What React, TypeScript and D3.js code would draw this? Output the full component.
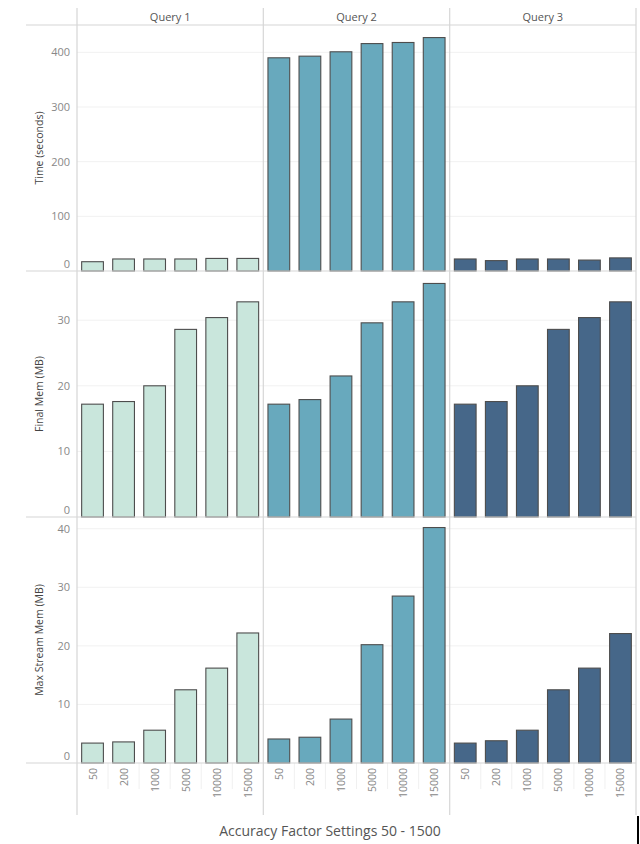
import React from "react";
import * as d3 from "d3";

const queries = ["Query 1", "Query 2", "Query 3"];
const settings = ["50", "200", "1000", "5000", "10000", "15000"];
const measures = ["Time (seconds)", "Final Mem (MB)", "Max Stream Mem (MB)"];

const timeQ1 = [17, 22, 22, 22, 23, 23];
const timeQ2 = [390, 393, 401, 416, 418, 427];
const timeQ3 = [22, 19, 22, 22, 20, 24];

const finalQ1 = [17.2, 17.6, 20.0, 28.6, 30.4, 32.8];
const finalQ2 = [17.2, 17.9, 21.5, 29.6, 32.8, 35.6];
const finalQ3 = [17.2, 17.6, 20.0, 28.6, 30.4, 32.8];

const streamQ1 = [3.4, 3.6, 5.6, 12.5, 16.2, 22.2];
const streamQ2 = [4.1, 4.4, 7.5, 20.2, 28.5, 40.2];
const streamQ3 = [3.4, 3.8, 5.6, 12.5, 16.2, 22.1];

const timeTicks = [0, 100, 200, 300, 400];
const finalTicks = [0, 10, 20, 30];
const streamTicks = [0, 10, 20, 30, 40];
const domainMax = [450, 37.5, 42];

const xTitle = "Accuracy Factor Settings 50 - 1500";

const colors = ["#c9e6dc", "#68a9bd", "#466789"];

const rowData = [
  [timeQ1, timeQ2, timeQ3],
  [finalQ1, finalQ2, finalQ3],
  [streamQ1, streamQ2, streamQ3],
];
const rowTicks = [timeTicks, finalTicks, streamTicks];

const W = 640;
const H = 844;
const colEdges = [77, 263.3, 449.7, 636];
const rowEdges = [25, 271, 517, 763];
const font = "'Open Sans', 'Noto Sans', sans-serif";
const lineColor = "#d6d6d6";

export default function App() {
  const colX = queries.map((_, i) =>
    d3.scaleBand<string>().domain(settings).range([colEdges[i], colEdges[i + 1]]).paddingInner(0.3).paddingOuter(0.15)
  );
  const rowY = measures.map((_, r) =>
    d3.scaleLinear().domain([0, domainMax[r]]).range([rowEdges[r + 1], rowEdges[r]])
  );

  return (
    <svg width={W} height={H} style={{ position: "absolute", left: 0, top: 0, background: "#fff" }} fontFamily={font}>
      {measures.map((m, r) =>
        rowTicks[r]
          .filter((t) => t !== 0)
          .map((t) => (
            <line key={m + t} x1={colEdges[0]} x2={colEdges[3]} y1={rowY[r](t)} y2={rowY[r](t)} stroke="#f1f1f1" strokeWidth={1} />
          ))
      )}
      {queries.map((q, c) =>
        settings.slice(1).map((s) => {
          const x = (colX[c](s) as number) - colX[c].step() * 0.15;
          return <line key={q + s} x1={x} x2={x} y1={rowEdges[3]} y2={rowEdges[3] + 26} stroke="#f0f0f0" />;
        })
      )}
      {measures.map((m, r) =>
        queries.map((q, c) =>
          settings.map((s, i) => {
            const v = rowData[r][c][i];
            const y = rowY[r](v);
            return (
              <rect
                key={m + q + s}
                x={colX[c](s)}
                y={y}
                width={colX[c].bandwidth()}
                height={rowY[r](0) - y}
                fill={colors[c]}
                stroke="#4d4d4d"
                strokeWidth={1.1}
              />
            );
          })
        )
      )}
      {colEdges.map((x) => (
        <line key={"v" + x} x1={x} x2={x} y1={8} y2={815} stroke={lineColor} strokeWidth={1.2} />
      ))}
      {rowEdges.map((y) => (
        <line key={"h" + y} x1={26} x2={636} y1={y} y2={y} stroke={lineColor} strokeWidth={1.2} />
      ))}
      {queries.map((q, c) => (
        <text key={q} x={(colEdges[c] + colEdges[c + 1]) / 2} y={21} textAnchor="middle" fontSize={11} fill="#555">
          {q}
        </text>
      ))}
      {measures.map((m, r) =>
        rowTicks[r].map((t) => (
          <text
            key={m + "t" + t}
            x={70}
            y={t === 0 ? rowY[r](0) - 3 : rowY[r](t) + 4}
            textAnchor="end"
            fontSize={11}
            fill="#888"
          >
            {t}
          </text>
        ))
      )}
      {measures.map((m, r) => {
        const cy = (rowEdges[r] + rowEdges[r + 1]) / 2;
        return (
          <text key={m} transform={`translate(43,${cy}) rotate(-90)`} textAnchor="middle" fontSize={10.5} fill="#444">
            {m}
          </text>
        );
      })}
      {queries.map((q, c) =>
        settings.map((s) => {
          const x = (colX[c](s) as number) + colX[c].bandwidth() / 2;
          return (
            <text
              key={q + "x" + s}
              transform={`translate(${x + 4},${rowEdges[3] + 5}) rotate(-90)`}
              textAnchor="end"
              fontSize={10.5}
              fill="#888"
            >
              {s}
            </text>
          );
        })
      )}
      <text x={330} y={836} textAnchor="middle" fontSize={14} fill="#555">
        {xTitle}
      </text>
      <rect x={637} y={816} width={2} height={28} fill="#000" />
    </svg>
  );
}
